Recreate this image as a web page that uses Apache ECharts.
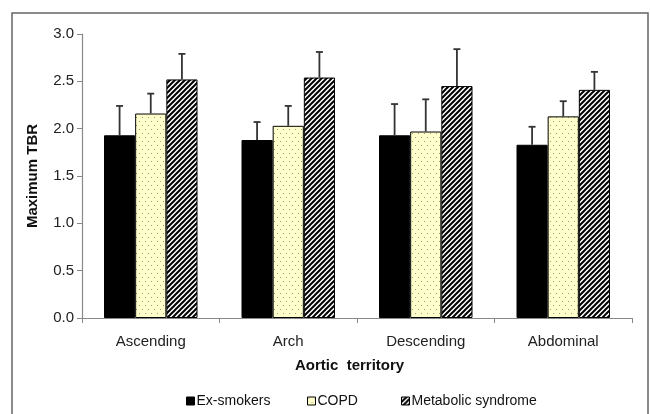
<!DOCTYPE html>
<html>
<head>
<meta charset="utf-8">
<script src="https://cdn.jsdelivr.net/npm/echarts@6/dist/echarts.min.js"></script>
<style>html,body{margin:0;padding:0;background:#fff}#c{width:650px;height:414px}</style>
</head>
<body>
<div id="c"></div>
<script>
var categories = ['Ascending', 'Arch', 'Descending', 'Abdominal'];
var seriesNames = ['Ex-smokers', 'COPD', 'Metabolic syndrome'];
var exSmokers = [1.93, 1.88, 1.93, 1.83];
var exSmokersErr = [2.24, 2.07, 2.26, 2.02];
var copd = [2.16, 2.03, 1.97, 2.13];
var copdErr = [2.37, 2.24, 2.31, 2.29];
var metabolic = [2.52, 2.54, 2.45, 2.41];
var metabolicErr = [2.79, 2.81, 2.84, 2.60];
var yTicks = [0, 0.5, 1.0, 1.5, 2.0, 2.5, 3.0];

function dotPattern() {
  var c = document.createElement('canvas');
  c.width = 6; c.height = 8;
  var g = c.getContext('2d');
  g.fillStyle = '#ffffcc';
  g.fillRect(0, 0, 6, 8);
  g.fillStyle = '#9a9a80';
  g.fillRect(1, 1, 1, 1);
  g.fillRect(4, 5, 1, 1);
  return c;
}
function hatchPattern() {
  var s = 5;
  var c = document.createElement('canvas');
  c.width = s; c.height = s;
  var g = c.getContext('2d');
  g.fillStyle = '#ffffff';
  g.fillRect(0, 0, s, s);
  g.strokeStyle = '#000000';
  g.lineWidth = 2;
  g.beginPath();
  g.moveTo(-1, 1); g.lineTo(1, -1);
  g.moveTo(0, s); g.lineTo(s, 0);
  g.moveTo(s - 1, s + 1); g.lineTo(s + 1, s - 1);
  g.stroke();
  return c;
}

var colors = ['#000000', {image: dotPattern(), repeat: 'repeat'}, {image: hatchPattern(), repeat: 'repeat'}];
var values = [exSmokers, copd, metabolic];
var errs = [exSmokersErr, copdErr, metabolicErr];
var gapFrac = 0.32;

var series = [];
values.forEach(function (v, i) {
  series.push({
    name: seriesNames[i],
    type: 'bar',
    data: v,
    barGap: '0%',
    barCategoryGap: (gapFrac * 100) + '%',
    itemStyle: {color: colors[i], borderColor: '#000', borderWidth: 1},
    emphasis: {disabled: true},
    z: 2
  });
});
errs.forEach(function (e, i) {
  series.push({
    type: 'custom',
    data: e.map(function (top, j) { return [j, values[i][j], top]; }),
    z: 3,
    silent: true,
    renderItem: function (params, api) {
      var catW = api.size([1, 0])[0];
      var bw = catW * (1 - gapFrac) / 3;
      var base = api.coord([api.value(0), api.value(1)]);
      var top = api.coord([api.value(0), api.value(2)]);
      var x = base[0] + (i - 1) * bw;
      var style = {stroke: '#333', lineWidth: 1.8};
      return {
        type: 'group',
        children: [
          {type: 'line', shape: {x1: x, y1: base[1], x2: x, y2: top[1]}, style: style},
          {type: 'line', shape: {x1: x - 3.5, y1: top[1], x2: x + 3.5, y2: top[1]}, style: style}
        ]
      };
    }
  });
});

var legendLefts = [186, 307, 401];
var legends = seriesNames.map(function (n, i) {
  return {
    data: [n],
    left: legendLefts[i],
    top: 394,
    itemWidth: 8,
    itemHeight: 8,
    icon: 'rect',
    selectedMode: false,
    padding: 0,
    textStyle: {fontSize: 14, color: '#111', padding: [0, 0, 0, -3]},
    itemStyle: {borderColor: '#000', borderWidth: 1}
  };
});

var chart = echarts.init(document.getElementById('c'));
chart.setOption({
  animation: false,
  textStyle: {fontFamily: 'Liberation Sans, Arial, sans-serif'},
  grid: {left: 82, right: 18, top: 34, bottom: 96, containLabel: false},
  graphic: [
    {type: 'rect', shape: {x: 12, y: 13, width: 636, height: 430}, style: {fill: 'none', stroke: '#666', lineWidth: 1.5}, z: 10, silent: true},
    {type: 'text', left: 295, top: 358, style: {text: 'Aortic  territory', fontSize: 15, fontWeight: 'bold', fill: '#111', fontFamily: 'Liberation Sans, Arial, sans-serif'}}
  ],
  legend: legends,
  xAxis: {
    type: 'category',
    data: categories,
    axisLine: {lineStyle: {color: '#888', width: 1.2}},
    axisTick: {show: true, length: 5, lineStyle: {color: '#888'}},
    axisLabel: {fontSize: 15, color: '#222', margin: 16}
  },
  yAxis: {
    type: 'value',
    min: 0,
    max: 3,
    interval: 0.5,
    name: 'Maximum TBR',
    nameLocation: 'middle',
    nameGap: 42,
    nameTextStyle: {fontSize: 15, fontWeight: 'bold', color: '#111'},
    splitLine: {show: false},
    axisLine: {show: true, lineStyle: {color: '#888', width: 1.2}},
    axisTick: {show: true, length: 5, lineStyle: {color: '#888'}},
    axisLabel: {fontSize: 15, color: '#222', margin: 8, formatter: function (v) { return yTicks.indexOf(v) >= 0 ? v.toFixed(1) : ''; }}
  },
  series: series
});
</script>
</body>
</html>
